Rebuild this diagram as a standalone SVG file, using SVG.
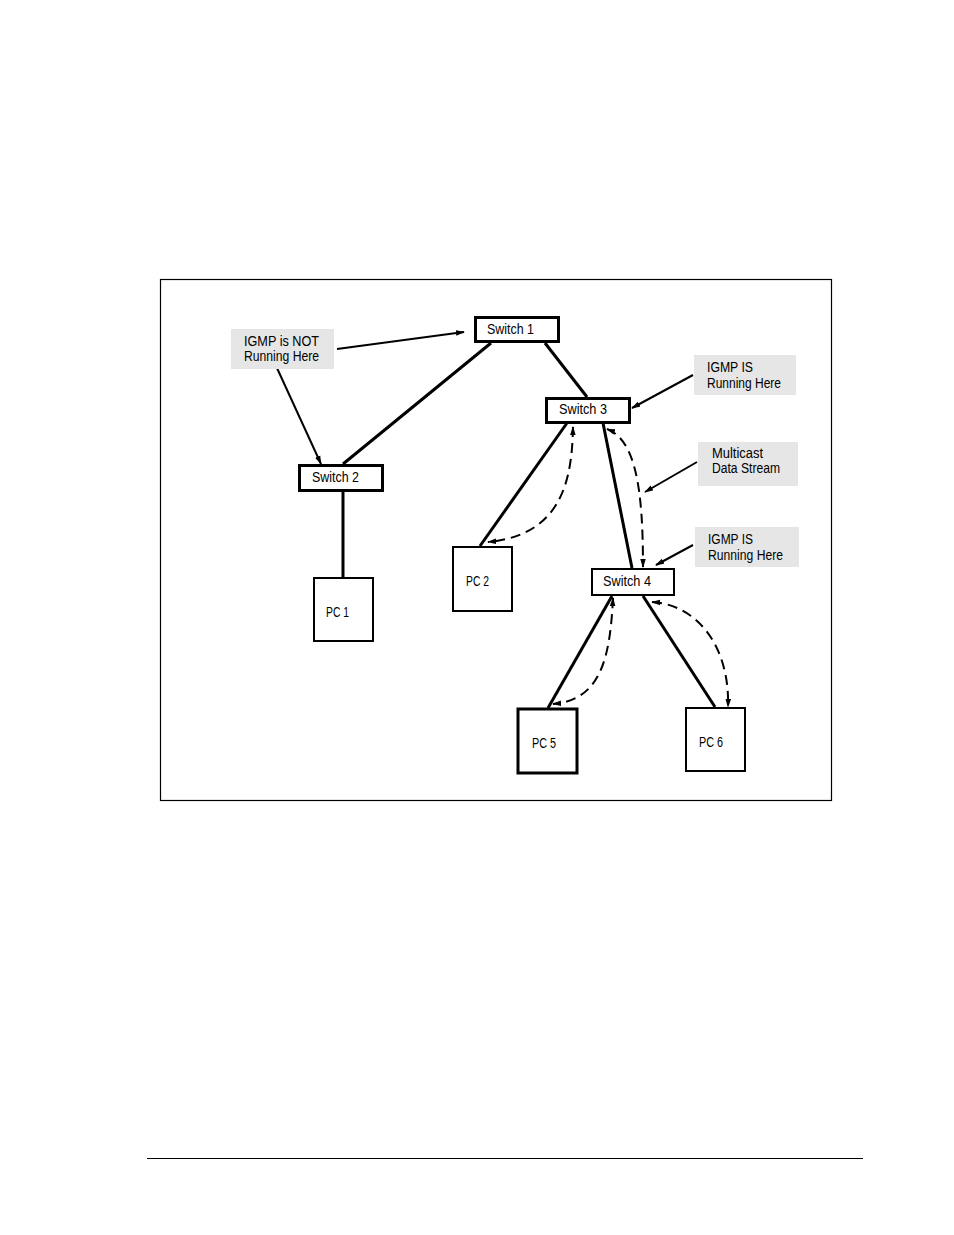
<svg xmlns="http://www.w3.org/2000/svg" width="954" height="1235" viewBox="0 0 954 1235">
<defs>
<style>
.t{font-family:"Liberation Sans",Arial,sans-serif;font-size:14px;fill:#000}
.sw{fill:#fff;stroke:#000}
.lbl{fill:#e6e6e6;stroke:none}
.solid{stroke:#000;fill:none;stroke-width:3}
.ptr{stroke:#000;fill:none;stroke-width:2;marker-end:url(#ah)}
.dash{stroke:#000;fill:none;stroke-width:2;stroke-dasharray:10 6;marker-start:url(#ah);marker-end:url(#ah)}
</style>
<marker id="ah" viewBox="0 0 10 10" refX="9" refY="5" markerWidth="9" markerHeight="7" orient="auto-start-reverse" markerUnits="userSpaceOnUse" preserveAspectRatio="none">
<path d="M0,1 L10,5 L0,9 z" fill="#000"/>
</marker>
</defs>
<rect x="0" y="0" width="954" height="1235" fill="#fff"/>
<rect x="160.5" y="279.5" width="671" height="521" fill="none" stroke="#000" stroke-width="1.2"/>
<line x1="147" y1="1158.5" x2="863" y2="1158.5" stroke="#000" stroke-width="1.2"/>

<g id="connectors">
<line class="solid" x1="491" y1="343" x2="343" y2="464"/>
<line class="solid" x1="545" y1="343" x2="587" y2="397"/>
<line class="solid" x1="343" y1="491" x2="343" y2="577"/>
<line class="solid" x1="567" y1="423" x2="480" y2="546"/>
<line class="solid" x1="603" y1="423" x2="632" y2="568" stroke-width="2.2"/>
<line class="solid" x1="612" y1="596" x2="548" y2="708"/>
<line class="solid" x1="643" y1="596" x2="715" y2="707" stroke-width="2.6"/>
<line class="ptr" x1="337" y1="349" x2="464" y2="332"/>
<line class="ptr" x1="277" y1="368" x2="321" y2="464"/>
<line class="ptr" x1="693" y1="375" x2="632" y2="408"/>
<line class="ptr" x1="697" y1="462" x2="645" y2="492"/>
<line class="ptr" x1="693" y1="545" x2="656" y2="565"/>
<path class="dash" d="M573,427 C572,480 562,535 488,542"/>
<path class="dash" d="M607,429 C636,440 643,490 643,567"/>
<path class="dash" d="M613,598 C610,660 600,700 553,704"/>
<path class="dash" d="M652,602 C700,605 730,650 728,707"/>
</g>

<g id="label-not">
<rect class="lbl" x="231" y="329" width="103" height="40"/>
<text class="t" x="244" y="346" textLength="75" lengthAdjust="spacingAndGlyphs">IGMP is NOT</text>
<text class="t" x="244" y="361" textLength="75" lengthAdjust="spacingAndGlyphs">Running Here</text>
</g>
<g id="label-is1">
<rect class="lbl" x="694" y="355" width="102" height="40"/>
<text class="t" x="707" y="372" textLength="46" lengthAdjust="spacingAndGlyphs">IGMP IS</text>
<text class="t" x="707" y="388" textLength="74" lengthAdjust="spacingAndGlyphs">Running Here</text>
</g>
<g id="label-multicast">
<rect class="lbl" x="698" y="442" width="100" height="44"/>
<text class="t" x="712" y="458" textLength="51" lengthAdjust="spacingAndGlyphs">Multicast</text>
<text class="t" x="712" y="473" textLength="68" lengthAdjust="spacingAndGlyphs">Data Stream</text>
</g>
<g id="label-is2">
<rect class="lbl" x="695" y="527" width="104" height="40"/>
<text class="t" x="708" y="544" textLength="45" lengthAdjust="spacingAndGlyphs">IGMP IS</text>
<text class="t" x="708" y="560" textLength="75" lengthAdjust="spacingAndGlyphs">Running Here</text>
</g>

<g id="switch1">
<rect class="sw" x="475.5" y="317.5" width="83" height="24" stroke-width="3"/>
<text class="t" x="487" y="334" textLength="47" lengthAdjust="spacingAndGlyphs">Switch 1</text>
</g>
<g id="switch2">
<rect class="sw" x="299.5" y="465.5" width="83" height="25" stroke-width="3"/>
<text class="t" x="312" y="482" textLength="47" lengthAdjust="spacingAndGlyphs">Switch 2</text>
</g>
<g id="switch3">
<rect class="sw" x="546.5" y="398.5" width="83" height="24" stroke-width="3"/>
<text class="t" x="559" y="414" textLength="48" lengthAdjust="spacingAndGlyphs">Switch 3</text>
</g>
<g id="switch4">
<rect class="sw" x="592" y="569" width="82" height="26" stroke-width="2"/>
<text class="t" x="603" y="586" textLength="48" lengthAdjust="spacingAndGlyphs">Switch 4</text>
</g>
<g id="pc1">
<rect class="sw" x="314" y="578" width="59" height="63" stroke-width="2"/>
<text class="t" x="326" y="617" textLength="23" lengthAdjust="spacingAndGlyphs">PC 1</text>
</g>
<g id="pc2">
<rect class="sw" x="453" y="547" width="59" height="64" stroke-width="2"/>
<text class="t" x="466" y="586" textLength="23" lengthAdjust="spacingAndGlyphs">PC 2</text>
</g>
<g id="pc5">
<rect class="sw" x="518" y="709" width="59" height="64" stroke-width="3"/>
<text class="t" x="532" y="748" textLength="24" lengthAdjust="spacingAndGlyphs">PC 5</text>
</g>
<g id="pc6">
<rect class="sw" x="686" y="708" width="59" height="63" stroke-width="2"/>
<text class="t" x="699" y="747" textLength="24" lengthAdjust="spacingAndGlyphs">PC 6</text>
</g>
</svg>
